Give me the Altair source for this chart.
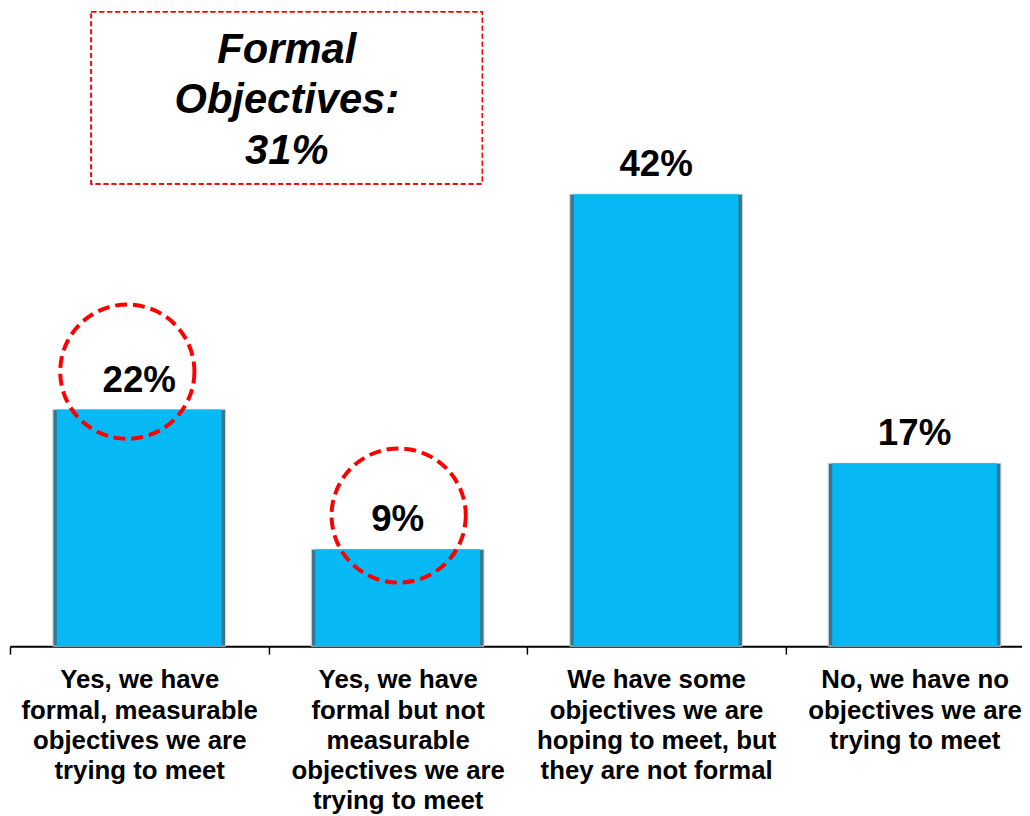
import altair as alt
import pandas as pd

categories = [
    "Yes, we have|formal, measurable|objectives we are|trying to meet",
    "Yes, we have|formal but not|measurable|objectives we are|trying to meet",
    "We have some|objectives we are|hoping to meet, but|they are not formal",
    "No, we have no|objectives we are|trying to meet",
]
values = [22, 9, 42, 17]
value_labels = ["22%", "9%", "42%", "17%"]
circled_values = [22, 9]
callout_text = "Formal\nObjectives:\n31%"

df = pd.DataFrame({"cat": categories, "value": values, "label": value_labels})

FONT = "Liberation Sans"
RED = "#FF0000"

x = alt.X(
    "cat:N",
    sort=None,
    scale=alt.Scale(domain=categories, range=[2, 1044], paddingInner=0, paddingOuter=0),
    axis=alt.Axis(
        title=None,
        labelExpr="split(datum.label, '|')",
        labelAngle=0,
        labelFont=FONT,
        labelFontSize=26,
        labelFontWeight="bold",
        labelColor="black",
        labelLineHeight=30.5,
        labelBaseline="alphabetic",
        labelPadding=34,
        labelLimit=400,
        labelOverlap=False,
        tickBand="extent",
        tickSize=8,
        tickColor="black",
        tickWidth=1.5,
        domainColor="black",
        domainWidth=2,
    ),
)
y = alt.Y("value:Q", scale=alt.Scale(domain=[0, 59]), axis=None)

base = alt.Chart(df)

edge = base.mark_bar(width=174, color="#3a7690", stroke="#cfd8dc", strokeWidth=1).encode(x=x, y=y)
face = base.mark_bar(width=166, color="#06B9F4").encode(x=x, y=y)

labels = base.mark_text(
    dy=-18, baseline="alphabetic", font=FONT, fontSize=37, fontWeight="bold", color="black"
).encode(x=x, y=y, text="label:N")

def ring(value, dx, dy):
    return base.mark_point(
        shape="circle", size=18300, filled=False, color=RED, strokeWidth=4,
        strokeDash=[12, 6], xOffset=dx, yOffset=dy,
    ).encode(
        x=x, y=y,
        opacity=alt.condition(f"datum.value == {value}", alt.value(1), alt.value(0)),
    )

ring1 = ring(circled_values[0], -12, -38)
ring2 = ring(circled_values[1], 1, -34)

box = base.mark_rect(fill="white", stroke=RED, strokeWidth=1.5, strokeDash=[5, 3]).encode(
    x=alt.value(84), x2=alt.value(478), y=alt.value(0.75), y2=alt.value(174)
)
callout = base.mark_text(
    lineBreak="\n", font=FONT, fontSize=42, fontWeight="bold", fontStyle="italic",
    baseline="alphabetic", align="center", lineHeight=51, color="black",
).encode(
    x=alt.value(281), y=alt.value(52),
    text=alt.condition(f"datum.value == {max(values)}", alt.value(callout_text), alt.value("")),
)

chart = alt.layer(box, callout, edge, face, labels, ring1, ring2).properties(
    width=1022,
    height=640,
    autosize=alt.AutoSizeParams(type="none"),
    padding={"left": 0, "top": 0, "right": 0, "bottom": 168},
    background="white",
).configure_view(stroke=None)

chart.save("out.html", embed_options={"renderer": "svg", "actions": False})
